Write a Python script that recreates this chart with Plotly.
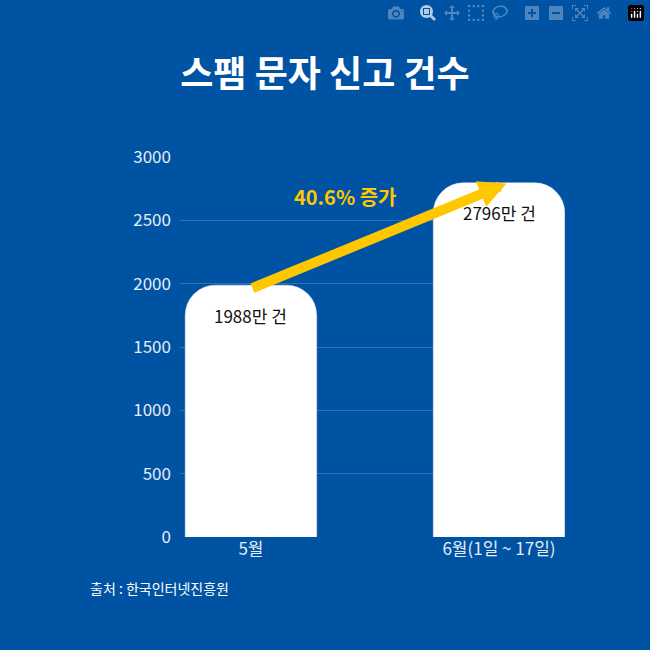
import plotly.graph_objects as go

# 데이터
months = ["5월", "6월(1일 ~ 17일)"]
reports = [1988, 2796]
bar_labels = ["1988만 건", "2796만 건"]
y_ticks = [0, 500, 1000, 1500, 2000, 2500, 3000]

bg = "#0052A3"
yellow = "#FFC700"
font = "Noto Sans CJK KR"

x_pos = list(range(len(months)))

fig = go.Figure(go.Bar(
    x=x_pos, y=reports, width=0.53,
    marker=dict(color="white", cornerradius=30),
    hoverinfo="skip",
))

for xi, yi, lab in zip(x_pos, reports, bar_labels):
    fig.add_annotation(x=xi, y=yi, text=lab, showarrow=False, yshift=-30,
                       font=dict(size=17, color="#111", family=font))

# 증가 화살표
fig.add_annotation(x=1.03, y=2790, ax=0.0, ay=1960, xref="x", yref="y",
                   axref="x", ayref="y", text="", showarrow=True,
                   arrowhead=2, arrowsize=0.55, arrowwidth=10, arrowcolor=yellow)
fig.add_annotation(x=0.38, y=2690, text="<b>40.6% 증가</b>", showarrow=False,
                   font=dict(size=20, color=yellow, family=font))

fig.add_annotation(x=-0.24, y=-0.135, xref="paper", yref="paper", text="출처 : 한국인터넷진흥원",
                   xanchor="left", yanchor="middle", showarrow=False,
                   font=dict(size=14, color="white", family=font))

fig.update_layout(
    width=650, height=650,
    paper_bgcolor=bg, plot_bgcolor=bg,
    margin=dict(l=180, r=85, t=157, b=113),
    showlegend=False,
    title=dict(text="<b>스팸 문자 신고 건수</b>", x=0.5, xanchor="center",
               y=0.885, yanchor="middle",
               font=dict(size=36, color="white", family=font)),
)
fig.update_xaxes(range=[-0.286, 1.266], tickvals=x_pos, ticktext=months,
                 tickfont=dict(size=17, color="#E6ECF5", family=font),
                 showgrid=False, zeroline=False, showline=False)
fig.update_yaxes(range=[0, 3000], tickvals=y_ticks,
                 tickfont=dict(size=17, color="#E6ECF5", family=font),
                 gridcolor="rgba(255,255,255,0.18)", gridwidth=1,
                 zeroline=False, ticklabelstandoff=8)

fig.write_html("out.html", post_script="document.body.style.margin='0';document.body.style.background='#0052A3';")
